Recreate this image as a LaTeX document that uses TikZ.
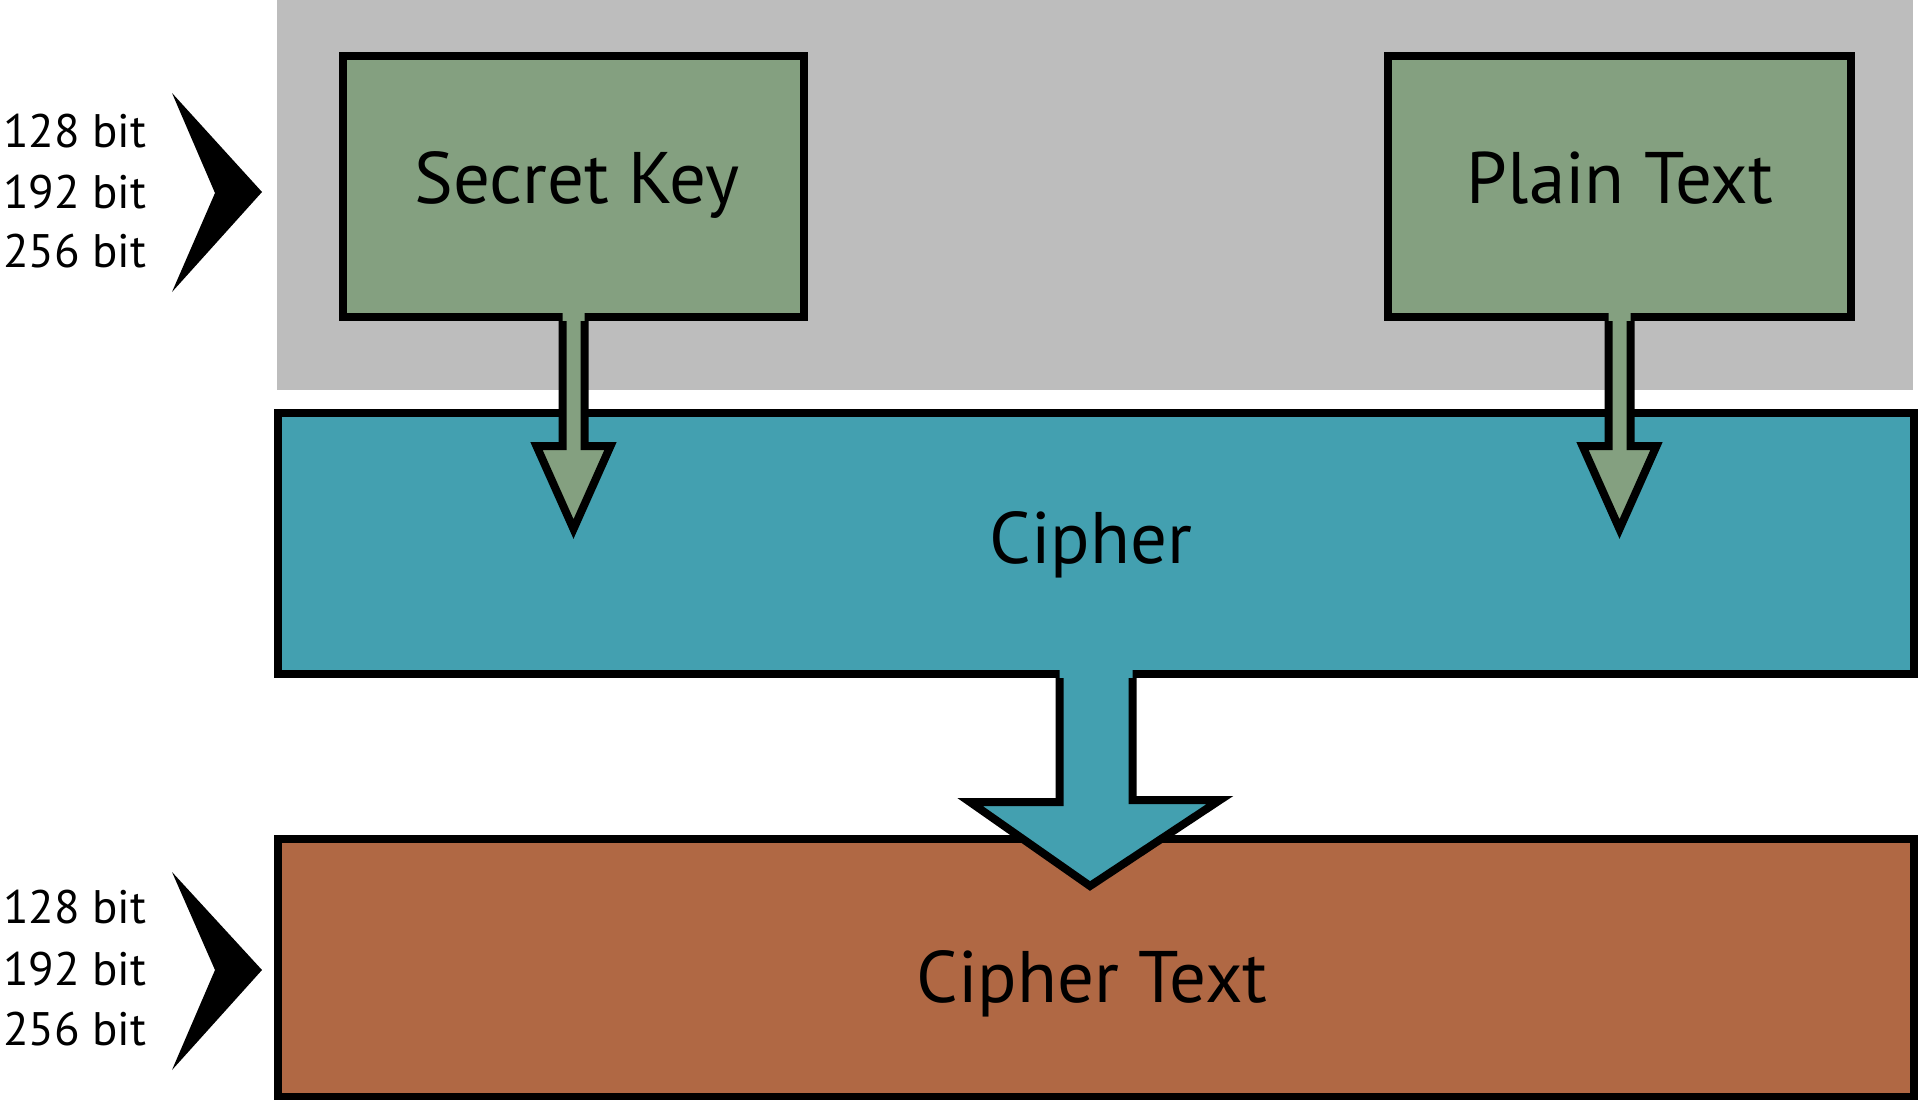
\documentclass[tikz,border=0pt]{standalone}
\usepackage{fontspec}
\setmainfont{PT Sans}
\usetikzlibrary{calc}
\definecolor{bggray}{HTML}{BDBDBD}
\definecolor{keygreen}{HTML}{84A080}
\definecolor{cipherteal}{HTML}{43A0B0}
\definecolor{ctbrown}{HTML}{B06844}
\tikzset{
  box/.style={draw=black, line width=8pt, line join=miter, inner sep=0pt},
  blockarrow/.style={draw=black, line width=8pt, line join=miter, miter limit=20},
  lbl/.style={font=\fontsize{73}{80}\selectfont, anchor=base, inner sep=0pt},
  bitlbl/.style={font=\fontsize{47}{52}\selectfont, anchor=base west, inner sep=0pt},
  chev/.style={fill=black}
}
\begin{document}
\begin{tikzpicture}[x=1pt,y=-1pt]
\useasboundingbox (0,0) rectangle (1920,1100);
% gray background panel
\node[fill=bggray, minimum width=1636pt, minimum height=390pt, inner sep=0pt] (bg) at (1095,195) {};
% boxes
\node[box, fill=cipherteal, minimum width=1636pt, minimum height=261pt] (ci) at (1096,543.5) {};
\node[box, fill=ctbrown, minimum width=1636pt, minimum height=258pt] (ct) at (1096,968) {};
\node[box, fill=keygreen, minimum width=461pt, minimum height=261pt] (sk) at (573.5,186.5) {};
\node[box, fill=keygreen, minimum width=463pt, minimum height=261pt] (pt) at (1619.5,186.5) {};
% labels
\node[lbl] (skl) at (577,203) {Secret Key};
\node[lbl] (ptl) at (1620,203) {Plain Text};
\node[lbl] (cil) at (1091,563) {Cipher};
\node[lbl] (ctl) at (1092,1002) {Cipher Text};
% block arrow: secret key -> cipher
\fill[keygreen] ($(sk.south)+(-11,-8)$) -- ($(sk.south)+(-11,125)$) -- ($(sk.south)+(-37,125)$) -- ($(sk.south)+(0,208)$) -- ($(sk.south)+(37,125)$) -- ($(sk.south)+(11,125)$) -- ($(sk.south)+(11,-8)$) -- cycle;
\draw[blockarrow] ($(sk.south)+(-11,0)$) -- ($(sk.south)+(-11,125)$) -- ($(sk.south)+(-37,125)$) -- ($(sk.south)+(0,208)$) -- ($(sk.south)+(37,125)$) -- ($(sk.south)+(11,125)$) -- ($(sk.south)+(11,0)$);
% block arrow: plain text -> cipher
\fill[keygreen] ($(pt.south)+(-11,-8)$) -- ($(pt.south)+(-11,125)$) -- ($(pt.south)+(-37,125)$) -- ($(pt.south)+(0,208)$) -- ($(pt.south)+(37,125)$) -- ($(pt.south)+(11,125)$) -- ($(pt.south)+(11,-8)$) -- cycle;
\draw[blockarrow] ($(pt.south)+(-11,0)$) -- ($(pt.south)+(-11,125)$) -- ($(pt.south)+(-37,125)$) -- ($(pt.south)+(0,208)$) -- ($(pt.south)+(37,125)$) -- ($(pt.south)+(11,125)$) -- ($(pt.south)+(11,0)$);
% block arrow: cipher -> cipher text
\fill[cipherteal] ($(ci.south)+(-36.5,-8)$) -- ($(ci.south)+(-36.5,124)$) -- ($(ci.south)+(-126,124)$) -- ($(ci.south)+(-6,208)$) -- ($(ci.south)+(124,122)$) -- ($(ci.south)+(36.5,122)$) -- ($(ci.south)+(36.5,-8)$) -- cycle;
\draw[blockarrow] ($(ci.south)+(-36.5,0)$) -- ($(ci.south)+(-36.5,124)$) -- ($(ci.south)+(-126,124)$) -- ($(ci.south)+(-6,208)$) -- ($(ci.south)+(124,122)$) -- ($(ci.south)+(36.5,122)$) -- ($(ci.south)+(36.5,0)$);
% chevrons
\fill[chev] (172,93) -- (262,192) -- (172,292) -- (215,193) -- cycle;
\fill[chev] (172,872) -- (262,970) -- (172,1070) -- (215,970) -- cycle;
% bit labels
\node[bitlbl] (b1) at (3,147) {128 bit};
\node[bitlbl] (b2) at (3,208) {192 bit};
\node[bitlbl] (b3) at (3,267) {256 bit};
\node[bitlbl] (b4) at (3,923) {128 bit};
\node[bitlbl] (b5) at (3,985) {192 bit};
\node[bitlbl] (b6) at (3,1045) {256 bit};
\end{tikzpicture}
\end{document}
